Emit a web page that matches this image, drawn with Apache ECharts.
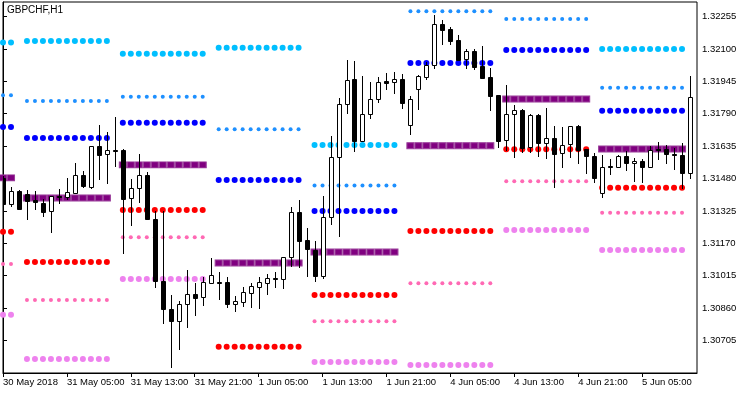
<!DOCTYPE html>
<html>
<head>
<meta charset="utf-8">
<script src="https://cdn.jsdelivr.net/npm/echarts@6/dist/echarts.min.js"></script>
<style>
html,body{margin:0;padding:0;background:#fff;}
#chart{width:750px;height:394px;}
</style>
</head>
<body>
<div id="chart"></div>
<script>
// ---- Data (GBPCHF, H1) ----
const symbolTitle = 'GBPCHF,H1';
const xTickLabels = ['30 May 2018','31 May 05:00','31 May 13:00','31 May 21:00','1 Jun 05:00','1 Jun 13:00','1 Jun 21:00','4 Jun 05:00','4 Jun 13:00','4 Jun 21:00','5 Jun 05:00'];
const yTicks = [1.30705,1.30860,1.31015,1.31170,1.31325,1.31480,1.31635,1.31790,1.31945,1.32100,1.32255];

const open = [
1.31482,1.31358,1.31420,1.31404,1.31377,1.31364,1.31323,1.31398,1.31393,1.31412,
1.31495,1.31441,1.31634,1.31596,1.31614,1.31616,1.31385,1.31433,1.31497,1.31286,
1.30991,1.30854,1.30800,1.30878,1.30927,1.30912,1.30981,1.30985,1.30985,1.30881,
1.30891,1.30934,1.30962,1.30981,1.31002,1.30998,1.31103,1.31318,1.31184,1.31138,
1.31015,1.31297,1.31581,1.31835,1.31956,1.31661,1.31787,1.31859,1.31945,1.31943,
1.31955,1.31734,1.31907,1.31967,1.32022,1.32218,1.32195,1.32143,1.32050,1.32090,
1.32018,1.31966,1.31879,1.31663,1.31787,1.31808,1.31629,1.31784,1.31651,1.31674,
1.31601,1.31644,1.31731,1.31620,1.31586,1.31409,1.31538,1.31534,1.31586,1.31553,
1.31565,1.31536,1.31620,1.31620,1.31596,1.31591,1.31508
];
const high = [
1.31492,1.31441,1.31425,1.31425,1.31420,1.31380,1.31398,1.31428,1.31481,1.31553,
1.31514,1.31635,1.31736,1.31701,1.31773,1.31621,1.31478,1.31597,1.31512,1.31324,
1.31324,1.30923,1.30894,1.31042,1.30981,1.31010,1.31101,1.31034,1.31010,1.30919,
1.30961,1.30981,1.31010,1.31023,1.31033,1.31104,1.31342,1.31377,1.31242,1.31182,
1.31396,1.31683,1.31864,1.32045,1.32042,1.31970,1.31942,1.31966,1.31983,1.31989,
1.31978,1.31875,1.31974,1.32039,1.32262,1.32238,1.32205,1.32166,1.32101,1.32098,
1.32114,1.32010,1.31879,1.31927,1.31832,1.31812,1.31787,1.31787,1.31817,1.31731,
1.31725,1.31731,1.31734,1.31620,1.31601,1.31592,1.31573,1.31592,1.31612,1.31577,
1.31575,1.31635,1.31656,1.31640,1.31624,1.31648,1.31969
];
const low = [
1.31353,1.31350,1.31334,1.31285,1.31333,1.31302,1.31225,1.31364,1.31382,1.31411,
1.31439,1.31436,1.31479,1.31460,1.31541,1.31125,1.31258,1.31369,1.31286,1.30959,
1.30790,1.30577,1.30664,1.30771,1.30827,1.30875,1.30979,1.30902,1.30867,1.30846,
1.30871,1.30867,1.30862,1.30929,1.30962,1.30958,1.31063,1.31058,1.31015,1.30991,
1.31005,1.31264,1.31206,1.31795,1.31612,1.31659,1.31771,1.31847,1.31907,1.31890,
1.31816,1.31691,1.31811,1.31955,1.32007,1.32125,1.32122,1.32047,1.32010,1.32004,
1.31962,1.31808,1.31632,1.31618,1.31584,1.31608,1.31608,1.31589,1.31579,1.31441,
1.31533,1.31584,1.31553,1.31508,1.31465,1.31390,1.31503,1.31533,1.31521,1.31469,
1.31465,1.31536,1.31573,1.31556,1.31524,1.31435,1.31481
];
const close = [
1.31358,1.31420,1.31335,1.31372,1.31366,1.31321,1.31398,1.31391,1.31414,1.31495,
1.31443,1.31634,1.31594,1.31615,1.31612,1.31382,1.31433,1.31497,1.31288,1.30991,
1.30854,1.30800,1.30878,1.30926,1.30910,1.30983,1.31018,1.30982,1.30881,1.30894,
1.30936,1.30966,1.30985,1.31004,1.30999,1.31103,1.31318,1.31182,1.31141,1.31015,
1.31294,1.31581,1.31835,1.31950,1.31659,1.31787,1.31859,1.31940,1.31938,1.31955,
1.31843,1.31859,1.31969,1.32022,1.32218,1.32188,1.32140,1.32047,1.32090,1.32015,
1.31962,1.31876,1.31661,1.31787,1.31808,1.31627,1.31784,1.31651,1.31674,1.31599,
1.31638,1.31731,1.31616,1.31589,1.31481,1.31536,1.31536,1.31586,1.31553,1.31562,
1.31536,1.31615,1.31615,1.31596,1.31592,1.31508,1.31868
];

// Pivot levels per session (first bar index of each session, 11 bars each)
const sessionStart = [-9, 3, 15, 27, 39, 51, 63, 75];
const sessionBars = 11;
const levelR3 = [1.32130,1.32138,1.32077,1.32106,1.31640,1.32675,1.32477,1.32099];
const levelR2 = [1.31878,1.31851,1.31871,1.31715,1.31447,1.32280,1.32243,1.31914];
const levelR1 = [1.31726,1.31674,1.31747,1.31473,1.31324,1.32033,1.32095,1.31804];
const levelPivot = [1.31483,1.31387,1.31545,1.31076,1.31128,1.31637,1.31860,1.31621];
const levelS1 = [1.31225,1.31080,1.31329,1.30675,1.30923,1.31229,1.31620,1.31436];
const levelS2 = [1.31071,1.30899,1.31199,1.30427,1.30797,1.30979,1.31467,1.31316];
const levelS3 = [1.30828,1.30616,1.30999,1.30033,1.30602,1.30588,1.31234,1.31138];

// ---- Build ----
const FONT = 'Liberation Sans';
const yMin = 1.305495, yMax = 1.323243;
const barsPerTick = 8;
const xTickPos = xTickLabels.map((_, k) => k * barsPerTick);

function levelData(arr) {
  const out = [];
  arr.forEach((v, k) => {
    for (let j = 0; j < sessionBars; j++) out.push([sessionStart[k] + j, v]);
  });
  return out;
}
function dots(name, arr, color, size) {
  return {
    name, type: 'scatter', data: levelData(arr), symbol: 'circle', symbolSize: size,
    itemStyle: { color: color, opacity: 1 }, silent: true, clip: true, z: 2, animation: false
  };
}

const candleData = open.map((o, i) => [i, o, close[i], low[i], high[i]]);

const chart = echarts.init(document.getElementById('chart'), null, { renderer: 'canvas' });
chart.setOption({
  animation: false,
  backgroundColor: '#fff',
  title: {
    text: symbolTitle, left: 7, top: 5, padding: 0,
    textStyle: { fontFamily: FONT, fontSize: 10, fontWeight: 'normal', color: '#000' }
  },
  grid: { left: 2, top: 2, right: 53, bottom: 21, show: true, borderColor: '#000', borderWidth: 1, backgroundColor: '#fff' },
  xAxis: {
    type: 'value', min: 0, max: 86.875,
    axisLine: { show: true, lineStyle: { color: '#000', width: 1 } },
    axisTick: { show: true, length: 4, customValues: xTickPos, lineStyle: { color: '#000' } },
    axisLabel: {
      customValues: xTickPos, align: 'left', margin: 4,
      formatter: v => xTickLabels[Math.round(v / barsPerTick)] || '',
      fontFamily: FONT, fontSize: 9.5, color: '#000'
    },
    splitLine: { show: false }
  },
  yAxis: {
    type: 'value', position: 'right', min: yMin, max: yMax, scale: true,
    axisLine: { show: true, lineStyle: { color: '#000', width: 1 } },
    axisTick: { show: true, length: 4, customValues: yTicks, lineStyle: { color: '#000' } },
    axisLabel: {
      customValues: yTicks, margin: 5,
      formatter: v => v.toFixed(5),
      fontFamily: FONT, fontSize: 9.5, color: '#000'
    },
    splitLine: { show: false }
  },
  series: [
    dots('R3', levelR3, '#00BFFF', 6),
    dots('R2', levelR2, '#1E90FF', 4),
    dots('R1', levelR1, '#0000FF', 6),
    {
      name: 'Pivot', type: 'scatter', data: levelData(levelPivot), symbol: 'rect', symbolSize: [7, 6],
      itemStyle: { color: '#800080', borderColor: '#9a3d9a', borderWidth: 1, opacity: 1 }, silent: true, clip: true, z: 2
    },
    dots('S1', levelS1, '#FF0000', 6),
    dots('S2', levelS2, '#FF69B4', 4),
    dots('S3', levelS3, '#EE82EE', 6),
    {
      name: 'GBPCHF', type: 'custom', data: candleData, clip: true, z: 3,
      encode: { x: 0, y: [1, 2, 3, 4] },
      renderItem: function (params, api) {
        const i = api.value(0);
        const o = api.value(1), c = api.value(2);
        const pO = api.coord([i, o]);
        const pC = api.coord([i, c]);
        const pL = api.coord([i, api.value(3)]);
        const pH = api.coord([i, api.value(4)]);
        const cx = Math.round(pO[0]);
        const yTop = Math.round(Math.min(pO[1], pC[1]));
        const yBot = Math.round(Math.max(pO[1], pC[1]));
        const up = c > o;
        return {
          type: 'group',
          children: [
            { type: 'line', shape: { x1: cx + 0.5, y1: Math.round(pH[1]), x2: cx + 0.5, y2: Math.round(pL[1]) + 1 },
              style: { stroke: '#000', lineWidth: 1 } },
            { type: 'rect', shape: { x: cx - 2 + 0.5, y: yTop + 0.5, width: 4, height: Math.max(yBot - yTop, 0) },
              style: { fill: up ? '#fff' : '#000', stroke: '#000', lineWidth: 1 } }
          ]
        };
      }
    }
  ]
});
</script>
</body>
</html>
